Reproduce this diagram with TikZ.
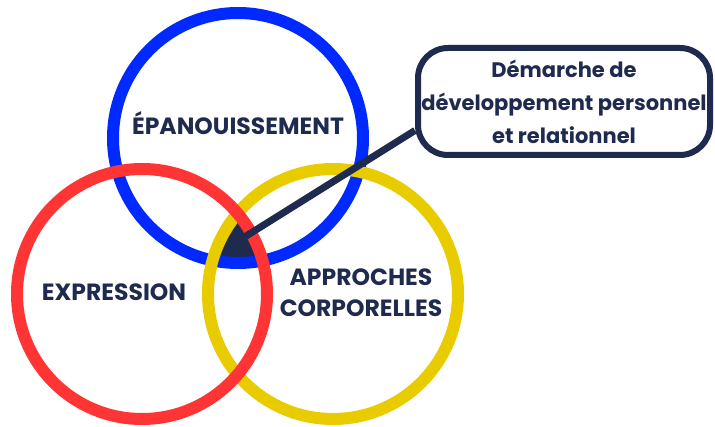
\documentclass[tikz,border=0pt]{standalone}
\usepackage{fontspec}
\setmainfont{Poppins}
\usepackage{xcolor}
\definecolor{vennBleu}{HTML}{0029FF}
\definecolor{vennRouge}{HTML}{FF3535}
\definecolor{vennJaune}{HTML}{E9CC00}
\definecolor{vennNuit}{HTML}{1F2A4F}
\usepackage{tikz}
\usetikzlibrary{positioning,calc}
\tikzset{
    anneau/.style={
        circle,
        draw,
        line width=12pt,
        minimum size=250pt,
        inner sep=0pt
    },
    titre/.style={
        font=\fontsize{23.5}{31}\selectfont\bfseries,
        text=vennNuit,
        align=center,
        inner sep=0pt
    },
    bulle/.style={
        draw=vennNuit,
        fill=white,
        rectangle,
        rounded corners=30pt,
        line width=6pt,
        minimum width=292pt,
        minimum height=107pt,
        align=center,
        inner sep=0pt,
        font=\fontsize{21}{33}\selectfont\bfseries,
        text=vennNuit
    },
    lien/.style={
        line width=7pt,
        color=vennNuit
    }
}

\begin{document}
\begin{tikzpicture}[x=1pt,y=-1pt]
    \path[use as bounding box] (0,0) rectangle (715,427);

    % Zone commune aux trois cercles
    \begin{scope}
        \clip (238,138) circle (125pt);
        \clip (333,294) circle (125pt);
        \fill[vennNuit] (142,294) circle (125pt);
    \end{scope}

    % Cercles
    \node[anneau, draw=vennBleu] (epan) at (238,138) {};
    \node[anneau, draw=vennJaune] (appr) at (333,294) {};
    \node[anneau, draw=vennRouge] (expr) at (142,294) {};

    % Titres
    \node[titre, anchor=base] (tEpan) at (238,135) {ÉPANOUISSEMENT};
    \node[titre, anchor=base] (tExpr) at (114,301) {EXPRESSION};
    \node[titre] (tAppr) at (361,293) {APPROCHES\\CORPORELLES};

    % Bulle
    \coordinate (coeur) at (243,238);
    \node[bulle] (demarche) at (564,101.5)
        {Démarche de\\développement personnel\\et relationnel};

    \draw[lien] (coeur) -- (demarche.191);
\end{tikzpicture}
\end{document}
